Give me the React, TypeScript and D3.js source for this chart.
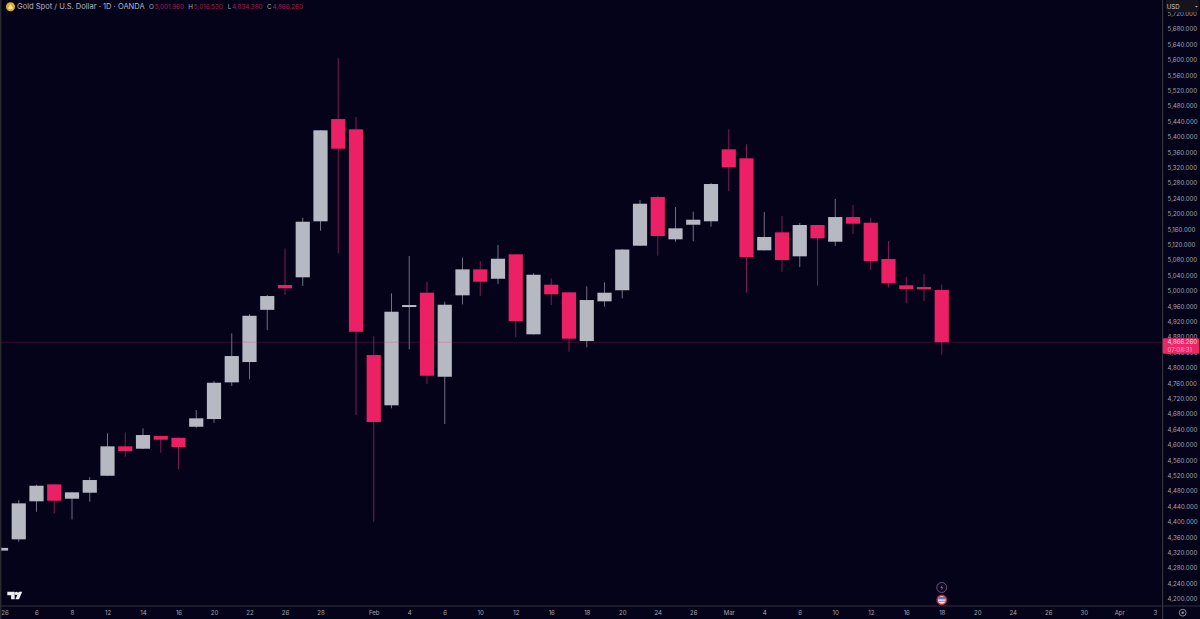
import React, { useEffect, useRef } from "react";
import * as d3 from "d3";

const dates = [
  "Jan 2", "Jan 5", "Jan 6", "Jan 7", "Jan 8", "Jan 9", "Jan 12", "Jan 13", "Jan 14", "Jan 15", "Jan 16",
  "Jan 19", "Jan 20", "Jan 21", "Jan 22", "Jan 23", "Jan 26", "Jan 27", "Jan 28", "Jan 29", "Jan 30",
  "Feb 2", "Feb 3", "Feb 4", "Feb 5", "Feb 6", "Feb 9", "Feb 10", "Feb 11", "Feb 12", "Feb 13",
  "Feb 16", "Feb 17", "Feb 18", "Feb 19", "Feb 20", "Feb 23", "Feb 24", "Feb 25", "Feb 26", "Feb 27",
  "Mar 2", "Mar 3", "Mar 4", "Mar 5", "Mar 6", "Mar 9", "Mar 10", "Mar 11", "Mar 12", "Mar 13",
  "Mar 16", "Mar 17", "Mar 18", "Mar 19", "Mar 20", "Mar 23", "Mar 24", "Mar 25", "Mar 26", "Mar 27",
  "Mar 30", "Mar 31", "Apr 1", "Apr 2", "Apr 3", "Apr 6",
];

const opens = [
  4325, 4354.2, 4453, 4497, 4459.7, 4475.3, 4519.4, 4595.8, 4589.6, 4622.6, 4618,
  4646.7, 4666.7, 4762, 4814.8, 4950.4, 5014.9, 5034.9, 5180.4, 5446, 5419.4,
  4833, 4702.4, 4957.7, 4994.9, 4776.6, 4988.1, 5055.6, 5031.2, 5094.6, 4886.8,
  5015.7, 4995.9, 4869.4, 4972.5, 5001.3, 5117, 5243.5, 5133.6, 5171.5, 5180.4,
  5367.4, 5344, 5105, 5151.8, 5089.4, 5170.8, 5127.4, 5191.5, 5176.7, 5082.4,
  5014.1, 5009.7, 5001.96,
];
const highs = [
  4333, 4456.3, 4496, 4498, 4478, 4516, 4629.6, 4632, 4642.6, 4623.4, 4618.7,
  4690, 4765.5, 4889.4, 4939.5, 4989, 5110, 5189.7, 5417.5, 5603.8, 5452.1,
  4881.6, 4993.3, 5090.2, 5023.4, 4971.5, 5085.8, 5077.2, 5118.8, 5095.4, 5045.3,
  5032.3, 4996.7, 5011.5, 5021.9, 5108.4, 5235.7, 5246.1, 5217.5, 5205.3, 5279.9,
  5419.4, 5380.4, 5204.5, 5194.1, 5176, 5171.3, 5238.3, 5222.7, 5189.7, 5129.2,
  5036.4, 5043.4, 5016.53,
];
const lows = [
  4324, 4348, 4426, 4421.7, 4406, 4452, 4518.6, 4568.8, 4588.8, 4579.2, 4536,
  4644, 4657, 4752.5, 4770, 4898, 4989, 5012.3, 5156, 5097.2, 4677.1,
  4400, 4694.6, 4847.8, 4757.7, 4653.7, 4964.7, 4986.3, 5017.5, 4879, 4886.2,
  4962.9, 4841.6, 4853, 4958.5, 4980.3, 5116.2, 5091, 5127.4, 5128.4, 5166.3,
  5259.1, 4994.9, 5104.5, 5049.4, 5061.6, 5013, 5116.2, 5147.4, 5053.8, 5009,
  4967.3, 4973.3, 4834.38,
];
const closes = [
  4332, 4447.7, 4493.5, 4454.5, 4476.3, 4508.3, 4595.8, 4583.6, 4625.2, 4613, 4594,
  4668.6, 4761, 4830.4, 4935, 4986.3, 5006.3, 5179.3, 5416.8, 5369, 4893.5,
  4659, 4945.5, 4963, 4779.2, 4963.7, 5055.6, 5023.4, 5083.2, 4921.3, 5041.6,
  4990.7, 4875.4, 4975.9, 4994.9, 5107.1, 5226.1, 5142.2, 5162.2, 5184.5, 5277.3,
  5320.7, 5087.6, 5139.6, 5079.8, 5170.8, 5136.2, 5191.5, 5174.2, 5077.2, 5019.3,
  5004.5, 5003.7, 4866.26,
];

const priceTicks = d3.range(4200, 5721, 40);
const timeTicks = [
  "Jan 6", "Jan 8", "Jan 12", "Jan 14", "Jan 16", "Jan 20", "Jan 22", "Jan 26", "Jan 28", "Feb 2", "Feb 4",
  "Feb 6", "Feb 10", "Feb 12", "Feb 16", "Feb 18", "Feb 20", "Feb 24", "Feb 26", "Mar 2", "Mar 4", "Mar 6",
  "Mar 10", "Mar 12", "Mar 16", "Mar 18", "Mar 20", "Mar 24", "Mar 26", "Mar 30", "Apr 1", "Apr 3",
];
const lastPrice = 4866.26;
const headerValues = [
  ["O", "5,001.960"],
  ["H", "5,016.530"],
  ["L", "4,834.380"],
  ["C", "4,866.260"],
];

const FONT = "Inter, 'Noto Sans', sans-serif";
const BG = "#05031a";
const UP = "#b6b8c2";
const DOWN = "#ec2064";
const UP_WICK = "#6f6f80";
const DOWN_WICK = "#7c1c4e";
const AXIS_TEXT = "#a3a3ae";
const BORDER = "#33323f";
const AXIS_SIZE = "6.1px";

const App: React.FC = () => {
  const svgRef = useRef<SVGSVGElement | null>(null);

  useEffect(() => {
    if (svgRef.current) drawChart(svgRef.current);
  }, []);

  const drawChart = (el: SVGSVGElement) => {
    const width = 1200;
    const height = 619;
    const plotRight = 1162;
    const plotBottom = 606;

    const svg = d3.select(el);
    svg.selectAll("*").remove();
    svg.attr("width", width).attr("height", height);

    svg.append("rect").attr("width", width).attr("height", height).attr("fill", BG);

    // one step per trading day, the axis runs on past the last candle
    const x = d3
      .scalePoint<string>()
      .domain(dates)
      .range([1, 1 + 17.75 * (dates.length - 1)]);
    const y = d3.scaleLinear().domain([4200, 5680]).range([598.7, 29]);

    const bodyWidth = 14.2;
    const candles = closes.map((c, i) => ({
      date: dates[i],
      open: opens[i],
      high: highs[i],
      low: lows[i],
      close: c,
    }));

    svg
      .append("g")
      .selectAll("line")
      .data(candles)
      .join("line")
      .attr("x1", (d) => x(d.date)!)
      .attr("x2", (d) => x(d.date)!)
      .attr("y1", (d) => y(d.high))
      .attr("y2", (d) => y(d.low))
      .attr("stroke", (d) => (d.close >= d.open ? UP_WICK : DOWN_WICK))
      .attr("stroke-width", 1);

    svg
      .append("g")
      .selectAll("rect")
      .data(candles)
      .join("rect")
      .attr("x", (d) => x(d.date)! - bodyWidth / 2)
      .attr("y", (d) => y(Math.max(d.open, d.close)))
      .attr("width", bodyWidth)
      .attr("height", (d) => Math.max(1.5, Math.abs(y(d.open) - y(d.close))))
      .attr("fill", (d) => (d.close >= d.open ? UP : DOWN));

    // last price line
    svg
      .append("line")
      .attr("x1", 0)
      .attr("x2", plotRight)
      .attr("y1", y(lastPrice))
      .attr("y2", y(lastPrice))
      .attr("stroke", DOWN)
      .attr("stroke-opacity", 0.3)
      .attr("stroke-width", 0.8);

    // panel behind the axes
    svg
      .append("rect")
      .attr("x", plotRight)
      .attr("width", width - plotRight)
      .attr("height", height)
      .attr("fill", BG);
    svg
      .append("rect")
      .attr("y", plotBottom)
      .attr("width", width)
      .attr("height", height - plotBottom)
      .attr("fill", BG);

    const yAxis = svg
      .append("g")
      .attr("transform", `translate(${plotRight},0)`)
      .call(
        d3
          .axisRight(y)
          .tickValues(priceTicks)
          .tickFormat(d3.format(",.3f") as any)
          .tickSize(0)
          .tickPadding(5.6)
      );
    yAxis.select(".domain").remove();
    yAxis
      .selectAll("text")
      .attr("fill", AXIS_TEXT)
      .style("font-family", FONT)
      .style("font-size", AXIS_SIZE);

    const xAxis = svg
      .append("g")
      .attr("transform", `translate(0,${plotBottom})`)
      .call(
        d3
          .axisBottom(x)
          .tickValues(timeTicks)
          .tickFormat((d: string) => {
            const [month, day] = d.split(" ");
            return day === "1" || day === "2" ? (month === "Jan" ? day : month) : day;
          })
          .tickSize(0)
          .tickPadding(5)
      );
    xAxis.select(".domain").remove();
    xAxis
      .selectAll("text")
      .attr("fill", AXIS_TEXT)
      .style("font-family", FONT)
      .style("font-size", AXIS_SIZE);

    // year label, cut by the left edge in the reference
    svg
      .append("text")
      .attr("x", 5)
      .attr("y", 615.3)
      .attr("text-anchor", "middle")
      .attr("fill", AXIS_TEXT)
      .style("font-family", FONT)
      .style("font-size", AXIS_SIZE)
      .text("26");

    // borders
    svg.append("rect").attr("x", 0).attr("width", 1.4).attr("height", height).attr("fill", "#2a2a33");
    svg.append("rect").attr("x", plotRight).attr("width", 1.2).attr("height", height).attr("fill", BORDER);
    svg.append("rect").attr("y", plotBottom - 0.5).attr("width", width).attr("height", 1).attr("fill", BORDER);

    // last price tag
    const tagY = y(lastPrice);
    svg
      .append("rect")
      .attr("x", plotRight + 0.8)
      .attr("y", tagY - 4)
      .attr("width", 36.2)
      .attr("height", 15.6)
      .attr("rx", 1)
      .attr("fill", "#ee2567");
    svg
      .append("text")
      .attr("x", 1167.6)
      .attr("y", tagY + 2.2)
      .attr("fill", "#fbdde6")
      .style("font-family", FONT)
      .style("font-size", AXIS_SIZE)
      .text(d3.format(",.3f")(lastPrice));
    svg
      .append("text")
      .attr("x", 1167.6)
      .attr("y", tagY + 9.3)
      .attr("fill", "#f9a5bf")
      .style("font-family", FONT)
      .style("font-size", AXIS_SIZE)
      .text("07:08:31");

    // currency box
    svg
      .append("rect")
      .attr("x", plotRight + 3.6)
      .attr("y", 0)
      .attr("width", 33.4)
      .attr("height", 12)
      .attr("rx", 2)
      .attr("fill", "#15141c");
    svg
      .append("text")
      .attr("x", 1166.8)
      .attr("y", 9)
      .attr("fill", "#c6c6cd")
      .style("font-family", FONT)
      .style("font-size", AXIS_SIZE)
      .text("USD");
    svg.append("path").attr("d", "M1195 6l3 0l-1.5 1.6z").attr("fill", "#aaaab2");

    // header
    svg.append("circle").attr("cx", 10.5).attr("cy", 6.8).attr("r", 4.5).attr("fill", "#e3ac32");
    svg.append("path").attr("d", "M10.5 4l2.6 4.8h-5.2z").attr("fill", "#fbe7a8");
    svg
      .append("text")
      .attr("x", 17)
      .attr("y", 9.4)
      .attr("fill", "#b4b4bd")
      .style("font-family", FONT)
      .style("font-size", "7.55px")
      .text("Gold Spot / U.S. Dollar · 1D · OANDA");

    const headerX = d3.scalePoint<string>().domain(headerValues.map((d) => d[0])).range([149, 267]);
    headerValues.forEach(([label, value]) => {
      const t = svg
        .append("text")
        .attr("x", headerX(label)!)
        .attr("y", 9.2)
        .style("font-family", FONT)
        .style("font-size", "6.3px");
      t.append("tspan").attr("fill", "#a8a8b2").text(label);
      t.append("tspan").attr("dx", 0.8).attr("fill", "#a81e50").text(value);
    });

    // TradingView mark
    svg
      .append("path")
      .attr("d", "M7.3 591.7h7.4v7.6h-3.6v-4h-3.8z M18.7 591.7h3.5l-3.2 7.6h-3.6z")
      .attr("fill", "#eeeef0");
    svg.append("circle").attr("cx", 16.4).attr("cy", 593.4).attr("r", 1.7).attr("fill", "#eeeef0");

    // event markers on the last candle
    const eventX = x("Mar 18")!;
    svg
      .append("circle")
      .attr("cx", eventX)
      .attr("cy", 587.5)
      .attr("r", 5)
      .attr("fill", "#0b0720")
      .attr("stroke", "#7c5a80")
      .attr("stroke-width", 0.9);
    svg
      .append("path")
      .attr("d", `M${eventX + 0.8} 584.8l-2.4 3.2h1.8l-0.9 2.4l2.5-3.2h-1.8z`)
      .attr("fill", "#8c6a92");

    svg.append("circle").attr("cx", eventX).attr("cy", 600).attr("r", 5.4).attr("fill", "#c52a3a");
    svg.append("circle").attr("cx", eventX).attr("cy", 600).attr("r", 3.8).attr("fill", "#e8e8f0");
    svg.append("rect").attr("x", eventX - 3.6).attr("y", 597).attr("width", 7.2).attr("height", 2.4).attr("fill", "#5a7cc8");
    svg.append("rect").attr("x", eventX - 3.6).attr("y", 600.8).attr("width", 7.2).attr("height", 0.9).attr("fill", "#d8606a");

    // settings icon
    svg
      .append("circle")
      .attr("cx", 1182.7)
      .attr("cy", 612.7)
      .attr("r", 3.4)
      .attr("fill", "none")
      .attr("stroke", "#9a9aa4")
      .attr("stroke-width", 0.9);
    svg.append("circle").attr("cx", 1182.7).attr("cy", 612.7).attr("r", 1.2).attr("fill", "#9a9aa4");
  };

  return (
    <div style={{ position: "fixed", left: 0, top: 0, lineHeight: 0 }}>
      <svg ref={svgRef}></svg>
    </div>
  );
};

export default App;
